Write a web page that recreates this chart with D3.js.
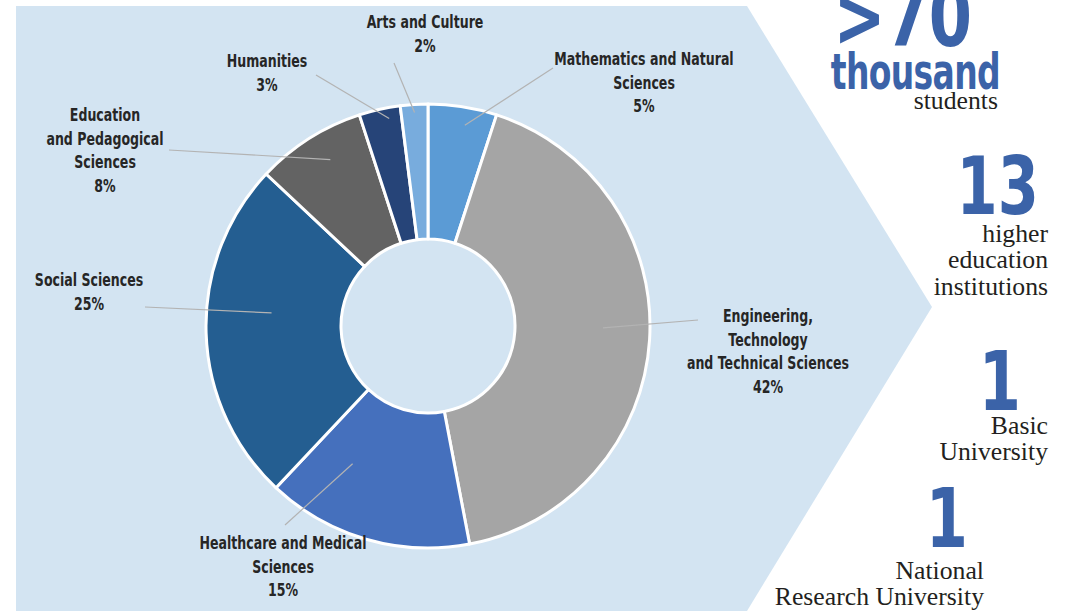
<!DOCTYPE html>
<html>
<head>
<meta charset="utf-8">
<script src="https://cdn.jsdelivr.net/npm/d3@7"></script>
<style>
  html, body { margin: 0; padding: 0; background: #ffffff; }
  svg { display: block; }
</style>
</head>
<body>
<svg id="chart" width="1070" height="611"></svg>
<script>
// ---- data ----
const categories = [
  "Mathematics and Natural Sciences",
  "Engineering, Technology and Technical Sciences",
  "Healthcare and Medical Sciences",
  "Social Sciences",
  "Education and Pedagogical Sciences",
  "Humanities",
  "Arts and Culture"
];
const shares = [5, 42, 15, 25, 8, 3, 2];
const labelLines = [
  ["Mathematics and Natural", "Sciences"],
  ["Engineering,", "Technology", "and Technical Sciences"],
  ["Healthcare and Medical", "Sciences"],
  ["Social Sciences"],
  ["Education", "and Pedagogical", "Sciences"],
  ["Humanities"],
  ["Arts and Culture"]
];
const sliceColors = ["#5b9bd5", "#a5a5a5", "#4570bd", "#245e91", "#636363", "#264478", "#78acdd"];

const statNumbers = [">70", "13", "1", "1"];
const statUnits = ["thousand", "", "", ""];
const statCaptions = [
  ["students"],
  ["higher", "education", "institutions"],
  ["Basic", "University"],
  ["National", "Research University"]
];

// ---- layout (positions only) ----
const cx = 428, cy = 326, rOuter = 222, rInner = 87;
const labelLayout = [
  {x: 644, y: 65,  lx: 553, ly: 68,  r: 204, da: 1.4},
  {x: 768, y: 322, lx: 698, ly: 320, r: 175, da: -3},
  {x: 283, y: 549, lx: 285, ly: 525, r: 157, da: 12.5},
  {x: 89,  y: 286, lx: 145, ly: 307, r: 157, da: 6.6},
  {x: 105, y: 121, lx: 169, ly: 150, r: 193, da: 2},
  {x: 267, y: 67,  lx: 316, ly: 75,  r: 211, da: 2},
  {x: 425, y: 28,  lx: 394, ly: 63,  r: 214, da: 0}
];
const statLayout = [
  {numX: 972, numY: 46, numSize: 84, unitX: 1000, unitY: 89, capX: 998, capY: 109},
  {numX: 1039, numY: 214, numSize: 80, capX: 1048, capY: 242},
  {numX: 1021, numY: 410, numSize: 82, capX: 1048, capY: 434},
  {numX: 968, numY: 547, numSize: 82, capX: 984, capY: 579}
];

const svg = d3.select("#chart");
const sansFont = "'DejaVu Sans', 'Liberation Sans', sans-serif";
const serifFont = "'Liberation Serif', 'DejaVu Serif', serif";
const blue = "#3b63a8";

// helper: horizontally condensed text block
function textBlock(x, y, sx, lines, opts) {
  const grp = svg.append("g").attr("transform", `translate(${x},${y}) scale(${sx},1)`);
  const t = grp.append("text")
    .attr("text-anchor", opts.anchor)
    .attr("font-family", opts.family)
    .attr("font-weight", opts.weight || "normal")
    .attr("font-size", opts.size)
    .attr("fill", opts.fill);
  lines.forEach((ln, k) => {
    t.append("tspan").attr("x", 0).attr("y", k * (opts.lh || 0)).text(ln);
  });
  return t;
}

// background arrow
const bg = [[16, 6], [747, 6], [932, 307], [747, 611], [16, 611]];
svg.append("path")
  .attr("d", d3.line()(bg) + "Z")
  .attr("fill", "#d3e4f2");

// donut
const pie = d3.pie().value(d => d).sort(null);
const arcs = pie(shares);
const arc = d3.arc().innerRadius(rInner).outerRadius(rOuter);

const g = svg.append("g").attr("transform", `translate(${cx},${cy})`);
g.selectAll("path.slice")
  .data(arcs)
  .join("path")
  .attr("class", "slice")
  .attr("d", arc)
  .attr("fill", (d, i) => sliceColors[i])
  .attr("stroke", "#ffffff")
  .attr("stroke-width", 3)
  .attr("stroke-linejoin", "round");

// leader lines
const midA = (d, i) => (d.startAngle + d.endAngle) / 2 + labelLayout[i].da * Math.PI / 180;
g.selectAll("line.leader")
  .data(arcs)
  .join("line")
  .attr("class", "leader")
  .attr("x1", (d, i) => labelLayout[i].lx - cx)
  .attr("y1", (d, i) => labelLayout[i].ly - cy)
  .attr("x2", (d, i) => Math.sin(midA(d, i)) * labelLayout[i].r)
  .attr("y2", (d, i) => -Math.cos(midA(d, i)) * labelLayout[i].r)
  .attr("stroke", "#b3b3b3")
  .attr("stroke-width", 1.2);

// labels
arcs.forEach((d, i) => {
  const L = labelLayout[i];
  const lines = labelLines[i].concat([d3.format("d")(d.data) + "%"]);
  textBlock(L.x, L.y, 0.68, lines, {
    anchor: "middle", family: sansFont, weight: "bold", size: 18.5, fill: "#262626", lh: 23.6
  });
});

// stats on the right
statNumbers.forEach((num, i) => {
  const S = statLayout[i];
  textBlock(S.numX, S.numY, 0.74, [num], {
    anchor: "end", family: sansFont, weight: "bold", size: S.numSize, fill: blue
  });
  if (statUnits[i]) {
    textBlock(S.unitX, S.unitY, 0.66, [statUnits[i]], {
      anchor: "end", family: sansFont, weight: "bold", size: 50, fill: blue
    }).attr("letter-spacing", -1);
  }
  textBlock(S.capX, S.capY, 1.05, statCaptions[i], {
    anchor: "end", family: serifFont, size: 24.5, fill: "#231f20", lh: 26.5
  });
});
</script>
</body>
</html>
